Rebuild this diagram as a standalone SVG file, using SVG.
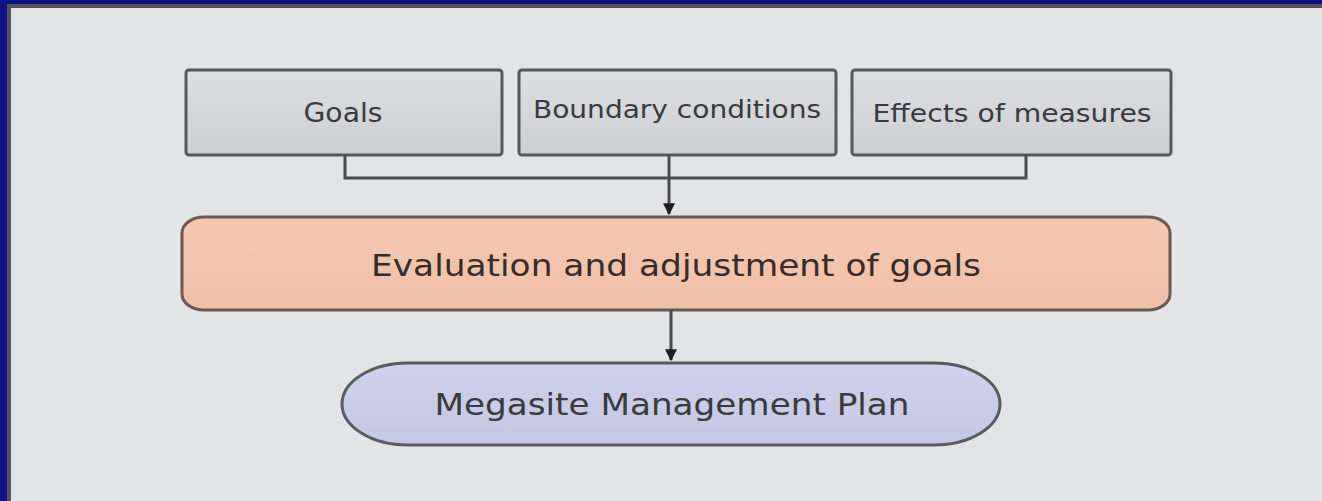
<svg xmlns="http://www.w3.org/2000/svg" width="1322" height="501" viewBox="0 0 1322 501">
<style>
.box{fill:url(#gbox);stroke:#58585c;stroke-width:3}
.t{font-family:"DejaVu Sans","Liberation Sans",sans-serif;fill:#3a3a3e;text-anchor:middle}
.c{fill:none;stroke:#4a4a4e;stroke-width:3}
</style>
<defs>
<linearGradient id="gbox" x1="0" y1="0" x2="0" y2="1">
<stop offset="0" stop-color="#dedfe2"/><stop offset="1" stop-color="#cdced1"/>
</linearGradient>
<linearGradient id="gev" x1="0" y1="0" x2="0" y2="1">
<stop offset="0" stop-color="#f4c8b1"/><stop offset="1" stop-color="#efc0a8"/>
</linearGradient>
<linearGradient id="gmp" x1="0" y1="0" x2="0" y2="1">
<stop offset="0" stop-color="#cfd2ec"/><stop offset="1" stop-color="#c3c7e3"/>
</linearGradient>
<marker id="ah" viewBox="0 0 10 10" refX="9" refY="5" markerWidth="4" markerHeight="4" orient="auto" markerUnits="strokeWidth">
<path d="M0,0 L10,5 L0,10 z" fill="#1e1e22"/>
</marker>
</defs>
<rect x="0" y="0" width="1322" height="501" fill="#0f1187"/>
<rect x="7" y="4" width="1315" height="497" fill="#545458"/>
<rect x="11" y="8" width="1311" height="493" fill="#e3e4e6"/>
<g id="goals">
<rect class="box" x="186" y="70" width="316" height="85" rx="3"/>
<text class="t" x="343" y="122" font-size="26" textLength="79" lengthAdjust="spacingAndGlyphs">Goals</text>
</g>
<g id="boundary">
<rect class="box" x="519" y="70" width="317" height="85" rx="3"/>
<text class="t" x="677" y="118" font-size="25" textLength="288" lengthAdjust="spacingAndGlyphs">Boundary conditions</text>
</g>
<g id="effects">
<rect class="box" x="852" y="70" width="319" height="85" rx="3"/>
<text class="t" x="1012" y="122" font-size="25" textLength="279" lengthAdjust="spacingAndGlyphs">Effects of measures</text>
</g>
<g id="evaluation">
<rect x="182" y="217" width="988" height="93" rx="22" ry="16" fill="url(#gev)" stroke="#6a5853" stroke-width="3"/>
<text class="t" x="676" y="276" font-size="31" style="fill:#3a2a26" textLength="610" lengthAdjust="spacingAndGlyphs">Evaluation and adjustment of goals</text>
</g>
<g id="plan">
<rect x="342" y="363" width="658" height="82" rx="66" ry="41" fill="url(#gmp)" stroke="#5a5a62" stroke-width="3"/>
<text class="t" x="672" y="415" font-size="31" textLength="475" lengthAdjust="spacingAndGlyphs">Megasite Management Plan</text>
</g>
<g id="connectors">
<polyline class="c" points="345,155 345,178 1026,178 1026,155"/>
<line class="c" x1="669" y1="155" x2="669" y2="214" marker-end="url(#ah)"/>
<line class="c" x1="671" y1="310" x2="671" y2="360" marker-end="url(#ah)"/>
</g>
</svg>
